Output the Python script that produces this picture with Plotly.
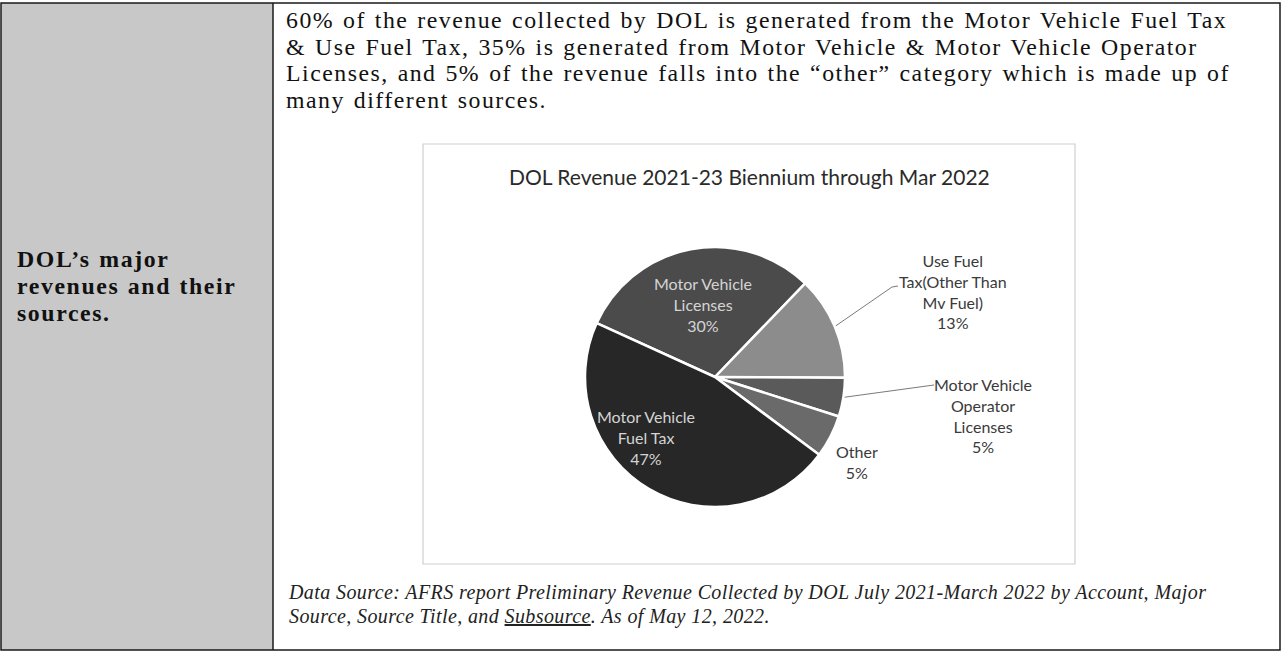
import math
import plotly.graph_objects as go

W, H = 1282, 653

# ---------------- data ----------------
categories = [
    "Motor Vehicle Licenses",
    "Use Fuel Tax(Other Than Mv Fuel)",
    "Motor Vehicle Operator Licenses",
    "Other",
    "Motor Vehicle Fuel Tax",
]
shares = [30.4, 12.9, 4.8, 5.3, 46.6]
label_lines = [
    "Motor Vehicle<br>Licenses",
    "Use Fuel<br>Tax(Other Than<br>Mv Fuel)",
    "Motor Vehicle<br>Operator<br>Licenses",
    "Other",
    "Motor Vehicle<br>Fuel Tax",
]
chart_title = "DOL Revenue 2021-23 Biennium through Mar 2022"
body_lines = [
    "60% of the revenue collected by DOL is generated from the Motor Vehicle Fuel Tax",
    "& Use Fuel Tax, 35% is generated from Motor Vehicle & Motor Vehicle Operator",
    "Licenses, and 5% of the revenue falls into the \u201cother\u201d category which is made up of",
    "many different sources.",
]
row_heading = ["DOL\u2019s major", "revenues and their", "sources."]
source_lines = [
    "Data Source: AFRS report Preliminary Revenue Collected by DOL July 2021-March 2022 by Account, Major",
    "Source, Source Title, and <span style=\"text-decoration:underline\">Subsource</span>. As of May 12, 2022.",
]

# ---------------- style ----------------
slice_colors = ["#4b4b4b", "#8c8c8c", "#5a5a5a", "#6a6a6a", "#272727"]
cx, cy, R = 715, 377, 130          # pie centre / radius in pixels
start_deg = 155.5                  # math angle where first slice begins
label_pos = [(703, 304), (953, 291), (983, 415), (857, 462), (646, 437)]
label_color = ["#d4d4d4", "#3a3a3a", "#3a3a3a", "#3a3a3a", "#d4d4d4"]
leader_elbow = {1: (892, 287), 2: (928, 386)}
chart_font = "Lato"
serif = "Liberation Serif"


def paragraph(lines, glyph_px, line_gap_px, tracking=0.0, word_gap=0.0, bold=False, italic=False):
    """One multi-line text: glyphs at glyph_px, lines spaced line_gap_px apart."""
    parts = []
    for ln in lines:
        s = (f'<span style="font-size:{glyph_px}px;letter-spacing:{tracking}px;'
             f'word-spacing:{word_gap}px">{ln}</span>')
        if bold:
            s = "<b>" + s + "</b>"
        if italic:
            s = "<i>" + s + "</i>"
        parts.append(s)
    return "<br>".join(parts), line_gap_px / 1.3


fig = go.Figure()

fig.add_trace(go.Pie(
    labels=categories, values=shares, sort=False, direction="clockwise",
    rotation=90 - start_deg,
    marker=dict(colors=slice_colors, line=dict(color="white", width=2.5)),
    textinfo="none", hoverinfo="label+percent", showlegend=False,
    domain=dict(x=[(cx - R) / W, (cx + R) / W],
                y=[(H - cy - R) / H, (H - cy + R) / H]),
))

# leader lines from slice edges (angles derived from the data)
total = sum(shares)
acc = 0.0
mids = []
for s in shares:
    a0 = start_deg - 360 * acc / total
    a1 = start_deg - 360 * (acc + s) / total
    mids.append((a0 + a1) / 2)
    acc += s
for i, (ex, ey) in leader_elbow.items():
    ang = math.radians(mids[i])
    px, py = cx + R * math.cos(ang), cy - R * math.sin(ang)
    fig.add_trace(go.Scatter(x=[px, ex, ex + 6], y=[py, ey, ey - 1], mode="lines",
                             line=dict(color="#7a7a7a", width=1),
                             hoverinfo="skip", showlegend=False))

shapes = []
# grey heading column
shapes.append(dict(type="rect", x0=1, y0=3, x1=273, y1=650, fillcolor="#c8c8c8",
                   line=dict(width=0), layer="below"))
# table border and divider
shapes.append(dict(type="rect", x0=1, y0=3, x1=1280, y1=650,
                   line=dict(color="#1a1a1a", width=1.5)))
shapes.append(dict(type="line", x0=273, y0=3, x1=273, y1=650,
                   line=dict(color="#1a1a1a", width=1.5)))
# chart frame
shapes.append(dict(type="rect", x0=423, y0=144, x1=1075, y1=564,
                   line=dict(color="#cfcfcf", width=1.2), fillcolor="white", layer="below"))

ann = []
ann.append(dict(x=749, y=176, text=chart_title, showarrow=False,
                font=dict(family=chart_font, size=21, color="#2a2a2a")))
for i, t in enumerate(label_lines):
    pct = f"{round(100 * shares[i] / total)}%"
    x, y = label_pos[i]
    ann.append(dict(x=x, y=y, text=t + "<br>" + pct, showarrow=False,
                    font=dict(family=chart_font, size=16, color=label_color[i])))

txt, base = paragraph(body_lines, 23.8, 26.5, tracking=1.5, word_gap=1.5)
ann.append(dict(x=284, y=60, text=txt, showarrow=False, xanchor="left", yanchor="middle",
                align="left", font=dict(family=serif, size=base, color="#111111")))
txt, base = paragraph(row_heading, 23.8, 27, tracking=1.6, word_gap=1, bold=True)
ann.append(dict(x=15, y=286, text=txt, showarrow=False, xanchor="left", yanchor="middle",
                align="left", font=dict(family=serif, size=base, color="#111111")))
txt, base = paragraph(source_lines, 20, 24, tracking=0.4, italic=True)
ann.append(dict(x=286, y=604, text=txt, showarrow=False, xanchor="left", yanchor="middle",
                align="left", font=dict(family=serif, size=base, color="#222222")))

for a in ann:
    a.setdefault("xref", "x")
    a.setdefault("yref", "y")

fig.update_layout(
    width=W, height=H, margin=dict(l=0, r=0, t=0, b=0),
    paper_bgcolor="white", plot_bgcolor="rgba(0,0,0,0)",
    xaxis=dict(range=[0, W], visible=False, fixedrange=True),
    yaxis=dict(range=[H, 0], visible=False, fixedrange=True),
    shapes=shapes, annotations=ann,
)
fig.write_html("out.html")
